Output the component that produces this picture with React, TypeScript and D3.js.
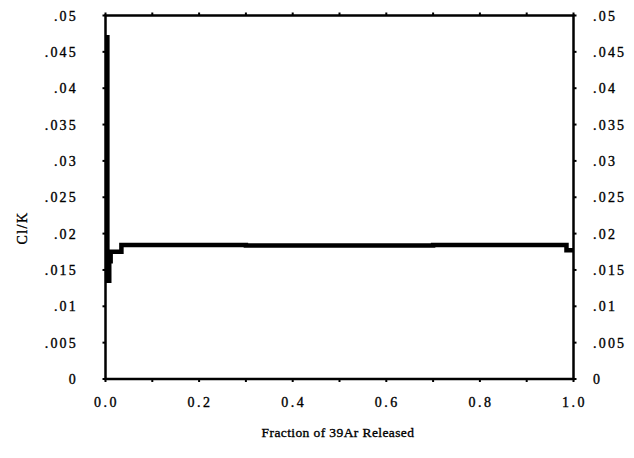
import React from "react";
import * as d3 from "d3";

const stepEdges = [0, 0.004, 0.008, 0.011, 0.034, 0.3, 0.7, 0.985, 1.0];
const stepValues = [0.047, 0.0135, 0.0162, 0.0175, 0.01842, 0.01838, 0.01842, 0.0177];
const yTicks = [0, 0.005, 0.01, 0.015, 0.02, 0.025, 0.03, 0.035, 0.04, 0.045, 0.05];
const yTickLabels = ["0", ".005", ".01", ".015", ".02", ".025", ".03", ".035", ".04", ".045", ".05"];
const xTicks = [0, 0.1, 0.2, 0.3, 0.4, 0.5, 0.6, 0.7, 0.8, 0.9, 1.0];
const xLabelTicks = [0, 0.2, 0.4, 0.6, 0.8, 1.0];

export default function App() {
  const W = 634, H = 458;
  const L = 105.5, R = 573.5, T = 15.5, B = 379;
  const x = d3.scaleLinear().domain([0, 1]).range([L, R]);
  const y = d3.scaleLinear().domain([0, 0.05]).range([B, T]);

  const pts: [number, number][] = [];
  stepValues.forEach((v, i) => {
    pts.push([stepEdges[i], v]);
    pts.push([stepEdges[i + 1], v]);
  });
  const line = d3.line<[number, number]>().x(d => x(d[0])).y(d => y(d[1]));

  const font = "'Liberation Serif', 'DejaVu Serif', serif";
  const txt = { fontFamily: font, fill: "#000", stroke: "#000", strokeWidth: 0.35 } as const;
  return (
    <svg width={W} height={H} style={{ position: "absolute", left: 0, top: 0, background: "#fff" }}>
      <rect x={0} y={0} width={W} height={H} fill="#fff" />
      <path d={line(pts) || ""} fill="none" stroke="#000" strokeWidth={4.5} strokeLinejoin="miter" />
      <rect x={L} y={T} width={R - L} height={B - T} fill="none" stroke="#000" strokeWidth={2.5} />
      {xTicks.map(t => (
        <g key={"xt" + t}>
          <line x1={x(t)} x2={x(t)} y1={B} y2={B + 3} stroke="#000" strokeWidth={2} />
          <line x1={x(t)} x2={x(t)} y1={T} y2={T - 3} stroke="#000" strokeWidth={2} />
        </g>
      ))}
      {yTicks.map((t, i) => (
        <g key={"yt" + t}>
          <line x1={L} x2={L - 3} y1={y(t)} y2={y(t)} stroke="#000" strokeWidth={2} />
          <line x1={R} x2={R + 3} y1={y(t)} y2={y(t)} stroke="#000" strokeWidth={2} />
          <text x={78} y={y(t) + 5} textAnchor="end" fontSize={14} letterSpacing={2.2} {...txt}>
            {yTickLabels[i]}
          </text>
          <text x={593} y={y(t) + 5} textAnchor="start" fontSize={14} letterSpacing={2.2} {...txt}>
            {yTickLabels[i]}
          </text>
        </g>
      ))}
      {xLabelTicks.map(t => (
        <text key={"xl" + t} x={x(t) + 1} y={407} textAnchor="middle" fontSize={14} letterSpacing={2.5} {...txt}>
          {t.toFixed(1)}
        </text>
      ))}
      <text x={338} y={437} textAnchor="middle" fontSize={13.5} letterSpacing={0.4} {...txt}>
        Fraction of 39Ar Released
      </text>
      <text transform={`translate(27,228) rotate(-90)`} textAnchor="middle" fontSize={14} letterSpacing={1.5} {...txt}>
        Cl/K
      </text>
    </svg>
  );
}
